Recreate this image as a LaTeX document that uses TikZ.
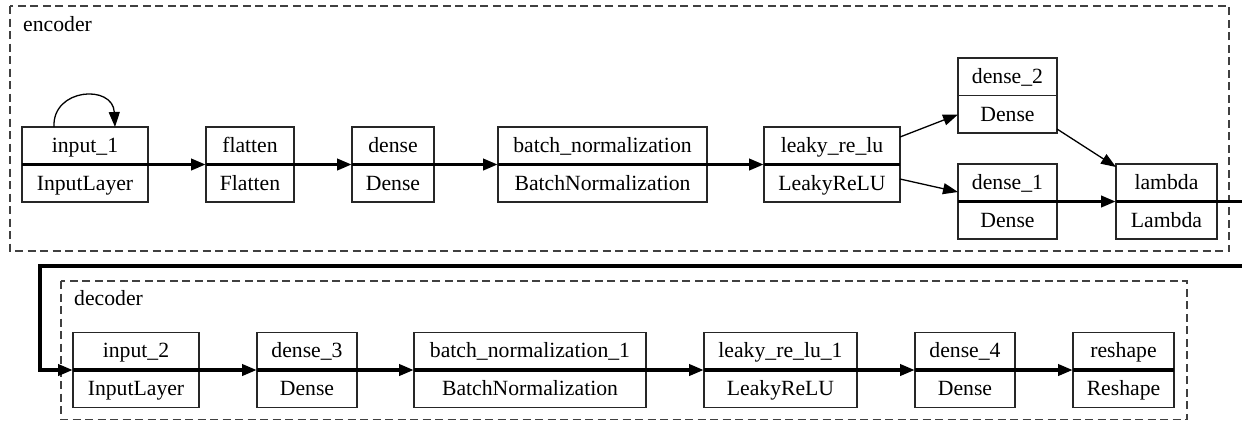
\documentclass[tikz,border=0pt]{standalone}
\usepackage{fontspec}
\setmainfont{Liberation Serif}
\newfontfamily\lserif{Liberation Serif}
\usetikzlibrary{arrows.meta,calc}
\newcommand\lblfont{\lserif\fontsize{21.7}{26}\selectfont}
\tikzset{
  box/.style={draw=black!85, line width=1.2pt, minimum height=75pt, inner sep=0pt, outer sep=0pt},
  lbl/.style={anchor=base, inner sep=0pt, font=\lblfont},
  cluster/.style={draw=black!75, line width=1.2pt, dash pattern=on 8pt off 4.5pt},
  clabel/.style={anchor=base west, inner sep=0pt, font=\lblfont},
  divider/.style={draw=black!85, line width=1.2pt},
  thk/.style={line width=3.8pt, line cap=butt},
  thn/.style={line width=1.3pt},
  tip/.style={-{Triangle[length=15pt,width=11pt]}}
}
% name, left x, right x, divider y, top text, bottom text
\newcommand\layer[6]{%
  \node[box, minimum width={#3-#2}] (#1) at ({(#2+#3)/2},#4) {};
  \draw[divider] (#1.west) -- (#1.east);
  \node[lbl] (#1-t) at ({(#2+#3)/2},{#4-12.5}) {#5};
  \node[lbl] (#1-b) at ({(#2+#3)/2},{#4+25.5}) {#6};
}
\begin{document}
\begin{tikzpicture}[x=1pt,y=-1pt]
\clip (0,0) rectangle (1242,421);
\fill[white] (0,0) rectangle (1242,421);
% clusters
\draw[cluster] (10,6) rectangle (1229,251);
\node[clabel] (enclbl) at (23,31) {encoder};
\draw[cluster] (61,281) rectangle (1187,419.5);
\node[clabel] (declbl) at (74,305) {decoder};
% encoder layers
\layer{in1}{22}{148}{164.5}{input\_1}{InputLayer}
\layer{fl}{206}{294}{164.5}{flatten}{Flatten}
\layer{de}{352}{434}{164.5}{dense}{Dense}
\layer{bn}{498}{707}{164.5}{batch\_normalization}{BatchNormalization}
\layer{lk}{764}{900}{164.5}{leaky\_re\_lu}{LeakyReLU}
\layer{dtwo}{958}{1057}{95.5}{dense\_2}{Dense}
\layer{done}{958}{1057}{201.5}{dense\_1}{Dense}
\layer{lam}{1116}{1217}{201.5}{lambda}{Lambda}
% decoder layers
\layer{in2}{73}{199}{370}{input\_2}{InputLayer}
\layer{dthree}{257}{357}{370}{dense\_3}{Dense}
\layer{bnone}{414}{646}{370}{batch\_normalization\_1}{BatchNormalization}
\layer{lkone}{704}{857}{370}{leaky\_re\_lu\_1}{LeakyReLU}
\layer{dfour}{915}{1015}{370}{dense\_4}{Dense}
\layer{rs}{1073}{1174}{370}{reshape}{Reshape}
% self loop
\draw[thn, tip] ([xshift=32pt]in1.north west) .. controls (52,88) and (113,84) .. ([xshift=93pt]in1.north west);
% encoder thick chain
\draw[thk, tip] (in1.west) -- (fl.west);
\draw[thk, tip] (fl.west) -- (de.west);
\draw[thk, tip] (de.west) -- (bn.west);
\draw[thk, tip] (bn.west) -- (lk.west);
\draw[thk] (lk.west) -- (lk.east);
% branches
\draw[thn, tip] ([yshift=-10pt]lk.north east) -- ([yshift=-19pt]dtwo.west);
\draw[thn, tip] ([yshift=-14.5pt]lk.east) -- ([yshift=9.5pt]done.west);
\draw[thn, tip] ([yshift=4pt]dtwo.south east) -- ([yshift=-3pt]lam.north west);
\draw[thk, tip] (done.west) -- (lam.west);
% link encoder -> decoder
\coordinate (c1) at (1252,201.5);
\coordinate (c2) at (1252,266);
\coordinate (c3) at (40,266);
\coordinate (c4) at (40,370);
\draw[thk, tip, line join=miter] (lam.west) -- (c1) -- (c2) -- (c3) -- (c4) -- (in2.west);
% decoder thick chain
\draw[thk, tip] (in2.west) -- (dthree.west);
\draw[thk, tip] (dthree.west) -- (bnone.west);
\draw[thk, tip] (bnone.west) -- (lkone.west);
\draw[thk, tip] (lkone.west) -- (dfour.west);
\draw[thk, tip] (dfour.west) -- (rs.west);
\draw[thk] (rs.west) -- (rs.east);
\end{tikzpicture}
\end{document}
